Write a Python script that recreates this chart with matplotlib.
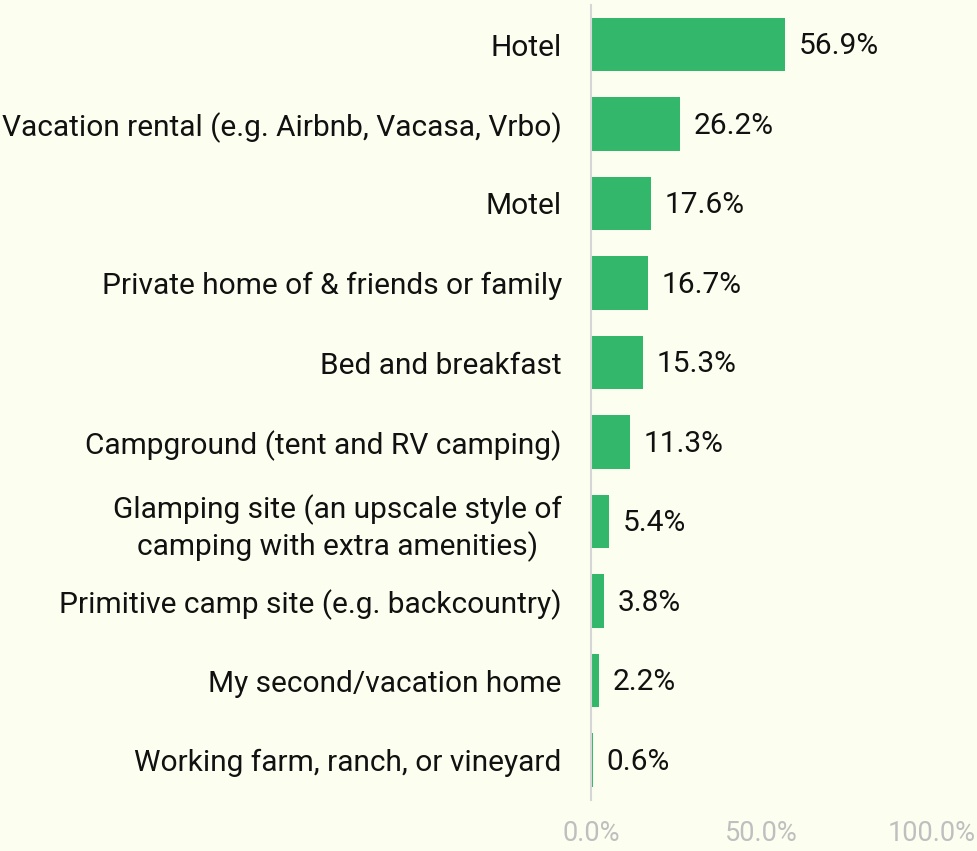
import matplotlib
matplotlib.use("Agg")
import matplotlib.pyplot as plt
from matplotlib.ticker import FuncFormatter

# Survey: lodging types used
categories = [
    "Hotel",
    "Vacation rental (e.g. Airbnb, Vacasa, Vrbo)",
    "Motel",
    "Private home of & friends or family",
    "Bed and breakfast",
    "Campground (tent and RV camping)",
    "Glamping site (an upscale style of\ncamping with extra amenities)",
    "Primitive camp site (e.g. backcountry)",
    "My second/vacation home",
    "Working farm, ranch, or vineyard",
]
values = [56.9, 26.2, 17.6, 16.7, 15.3, 11.3, 5.4, 3.8, 2.2, 0.6]
x_ticks = [0, 50, 100]

bg = "#FCFFEF"
bar_color = "#33B76A"

plt.rcParams['font.family'] = ['Roboto', 'DejaVu Sans']

fig = plt.figure(figsize=(9.78, 8.51), dpi=100, facecolor=bg)
ax = fig.add_axes([591 / 978, 1 - 799.75 / 851, (932 - 591) / 978, (799.75 - 4.75) / 851])
ax.set_facecolor(bg)

ypos = list(range(len(categories)))
ax.barh(ypos, values, height=0.67, color=bar_color)
ax.set_ylim(len(categories) - 0.5, -0.5)
ax.set_xlim(0, 100)

for y, v in zip(ypos, values):
    ax.text(v + 4.0, y + 0.02, f"{v:.1f}%", va="center", ha="left", fontsize=21.5, color="#111111")

ax.set_yticks(ypos)
ax.set_yticklabels(categories, fontsize=21.5, color="#111111", ha="right",
                   multialignment="center", linespacing=1.25)
ax.tick_params(axis="y", length=0, pad=21)
ax.set_xticks(x_ticks)
ax.xaxis.set_major_formatter(FuncFormatter(lambda v, p: f"{v:.1f}%"))
ax.tick_params(axis="x", length=0, pad=14.5, labelsize=19.5, labelcolor="#BFBFBF")

for s in ["top", "right", "bottom"]:
    ax.spines[s].set_visible(False)
ax.spines["left"].set_color("#D6D6D6")
ax.spines["left"].set_linewidth(1.5)

fig.savefig("out.png", dpi=100, facecolor=bg)
